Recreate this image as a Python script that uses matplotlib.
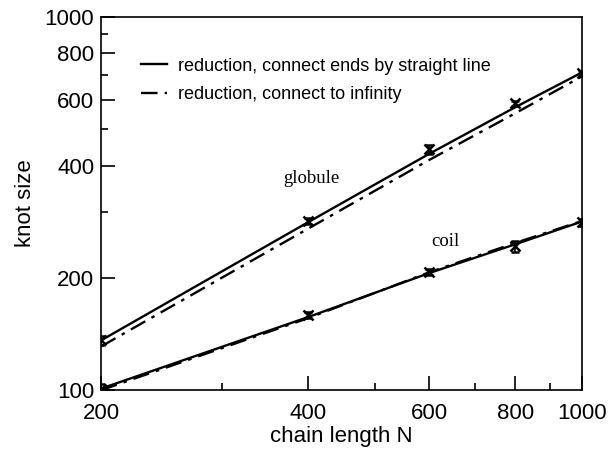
import matplotlib
matplotlib.use("Agg")
import matplotlib.pyplot as plt
from matplotlib.ticker import FixedLocator, NullFormatter

# chain lengths
N = [200, 400, 600, 800, 1000]

# globule: data points and the two fitted lines
glob_pts = [136, 284, 442, 587, 707]
glob_err = [4, 5, 12, 10, 12]
glob_solid = [136, 282, 430, 573, 710]
glob_dash = [131, 271, 414, 552, 693]

# coil: data points and the two fitted lines
coil_pts = [101, 159, 207, 243, 282]
coil_err = [3, 3, 4, 8, 6]
coil_solid = [101, 157, 206, 246, 283]
coil_dash = [100, 156, 207, 248, 284]

xticks = [200, 400, 600, 800, 1000]
xminor = [300, 500, 700, 900]
yticks = [100, 200, 400, 600, 800, 1000]
yminor = [300, 500, 700, 900]

plt.rcParams['font.family'] = ['Liberation Sans', 'DejaVu Sans']

fig = plt.figure(figsize=(6.13, 4.49), dpi=100)
ax = fig.add_axes([0.165, 0.131, 0.784, 0.831])
ax.set_xscale('log')
ax.set_yscale('log')

ax.plot(N, glob_solid, '-', color='black', lw=1.7,
        label='reduction, connect ends by straight line')
ax.plot(N, glob_dash, '-.', color='black', lw=1.7, dashes=(7, 3, 1.5, 3),
        label='reduction, connect to infinity')
ax.plot(N, coil_solid, '-', color='black', lw=1.7)
ax.plot(N, coil_dash, '-.', color='black', lw=1.7, dashes=(7, 3, 1.5, 3))

for pts, err in [(glob_pts, glob_err), (coil_pts, coil_err)]:
    ax.errorbar(N, pts, yerr=err, fmt='x', color='black', ms=7, mew=1.8,
                capsize=3, elinewidth=1.2, capthick=1.5)

ax.set_xlim(200, 1000)
ax.set_ylim(100, 1000)

ax.xaxis.set_major_locator(FixedLocator(xticks))
ax.xaxis.set_minor_locator(FixedLocator(xminor))
ax.yaxis.set_major_locator(FixedLocator(yticks))
ax.yaxis.set_minor_locator(FixedLocator(yminor))
ax.set_xticklabels([str(t) for t in xticks])
ax.set_yticklabels([str(t) for t in yticks])
ax.xaxis.set_minor_formatter(NullFormatter())
ax.yaxis.set_minor_formatter(NullFormatter())
ax.tick_params(which='both', direction='in', top=False, right=False,
               labelsize=16, width=1.2)
ax.tick_params(which='major', length=10, pad=5)
ax.tick_params(axis='x', which='major', pad=9)
ax.tick_params(which='minor', length=5)
for s in ax.spines.values():
    s.set_linewidth(1.2)

ax.set_xlabel('chain length N', fontsize=16, labelpad=2)
ax.set_ylabel('knot size', fontsize=16, labelpad=6)

ax.text(405, 370, 'globule', fontsize=13.5, family='Liberation Serif',
        ha='center', va='center')
ax.text(634, 250, 'coil', fontsize=13.5, family='Liberation Serif',
        ha='center', va='center')

ax.legend(loc='upper left', bbox_to_anchor=(0.05, 0.935), frameon=False,
          fontsize=13, handlelength=1.4, handletextpad=0.6,
          labelspacing=0.65)

fig.savefig('out.png', dpi=100)
